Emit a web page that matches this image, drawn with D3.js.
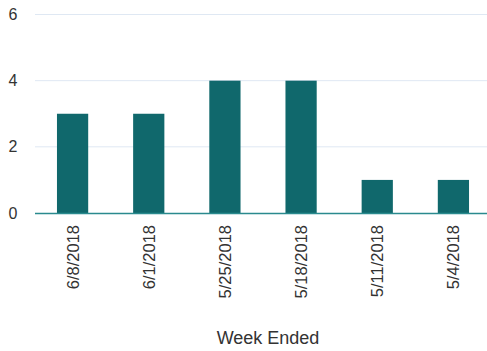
<!DOCTYPE html>
<html>
<head>
<meta charset="utf-8">
<script src="https://cdn.jsdelivr.net/npm/d3@7"></script>
<style>
body { margin: 0; background: #fff; }
text { font-family: "Liberation Sans", Arial, sans-serif; }
</style>
</head>
<body>
<div id="chart"></div>
<script>
var weeks = ["6/8/2018", "6/1/2018", "5/25/2018", "5/18/2018", "5/11/2018", "5/4/2018"];
var counts = [3, 3, 4, 4, 1, 1];
var yTicks = [0, 2, 4, 6];

var width = 487, height = 351;

var svg = d3.select("#chart").append("svg")
    .attr("width", width)
    .attr("height", height);

var x = d3.scaleBand()
    .domain(weeks)
    .range([34.5, 491.5])
    .paddingInner(0.59)
    .paddingOuter(0.295);

var y = d3.scaleLinear()
    .domain([0, 6])
    .range([213, 14.5]);

// gridlines
svg.append("g")
    .selectAll("line")
    .data(yTicks.filter(function (d) { return d > 0; }))
    .enter().append("line")
    .attr("x1", 35)
    .attr("x2", width)
    .attr("y1", function (d) { return y(d); })
    .attr("y2", function (d) { return y(d); })
    .attr("stroke", "#dfe8f3")
    .attr("stroke-width", 1);

// y labels
svg.append("g")
    .selectAll("text")
    .data(yTicks)
    .enter().append("text")
    .attr("x", 13)
    .attr("y", function (d) { return y(d) + 5.5; })
    .attr("text-anchor", "middle")
    .attr("font-size", "16px")
    .attr("fill", "#333")
    .text(function (d) { return d; });

// bars
svg.append("g")
    .selectAll("rect")
    .data(weeks)
    .enter().append("rect")
    .attr("x", function (d) { return x(d); })
    .attr("width", x.bandwidth())
    .attr("y", function (d, i) { return y(counts[i]); })
    .attr("height", function (d, i) { return y(0) - y(counts[i]); })
    .attr("fill", "#10686c");

// baseline
svg.append("line")
    .attr("x1", 35)
    .attr("x2", width)
    .attr("y1", y(0) + 0.5)
    .attr("y2", y(0) + 0.5)
    .attr("stroke", "#2a8a8e")
    .attr("stroke-width", 1.5);

// x labels
svg.append("g")
    .selectAll("text")
    .data(weeks)
    .enter().append("text")
    .attr("text-anchor", "end")
    .attr("font-size", "16.5px")
    .attr("fill", "#333")
    .attr("transform", function (d) {
        return "translate(" + (x(d) + x.bandwidth() / 2 + 6) + ",225) rotate(-90)";
    })
    .text(function (d) { return d; });

svg.append("text")
    .attr("x", 268)
    .attr("y", 344)
    .attr("text-anchor", "middle")
    .attr("font-size", "18px")
    .attr("fill", "#333")
    .text("Week Ended");
</script>
</body>
</html>
